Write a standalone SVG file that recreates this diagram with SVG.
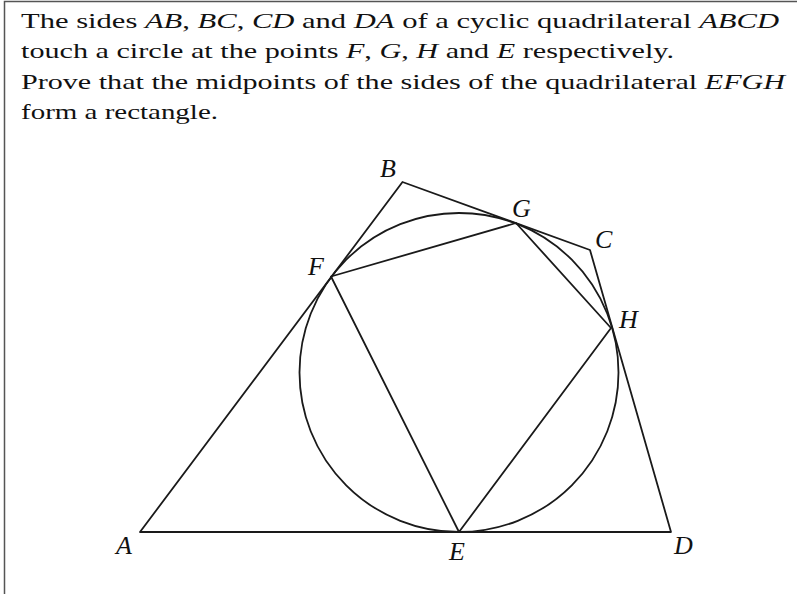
<svg xmlns="http://www.w3.org/2000/svg" width="797" height="594" viewBox="0 0 797 594">
<style>
.t{font-family:"Liberation Serif","DejaVu Serif",serif;font-size:22px;fill:#111}
.i{font-style:italic}
.lbl{font-family:"Liberation Serif","DejaVu Serif",serif;font-size:26px;font-style:italic;fill:#111}
.ln{stroke:#1a1a1a;stroke-width:1.8;fill:none;stroke-linejoin:round}
.frame{stroke:#555;stroke-width:1.5;fill:none}
</style>
<rect width="797" height="594" fill="#fff"/>
<path class="frame" d="M4.5,594 V1.5 H797"/>
<g id="text">
<text class="t" x="21" y="27.5" textLength="758" lengthAdjust="spacingAndGlyphs">The sides <tspan class="i">AB</tspan>, <tspan class="i">BC</tspan>, <tspan class="i">CD</tspan> and <tspan class="i">DA</tspan> of a cyclic quadrilateral <tspan class="i">ABCD</tspan></text>
<text class="t" x="21" y="58" textLength="653" lengthAdjust="spacingAndGlyphs">touch a circle at the points <tspan class="i">F</tspan>, <tspan class="i">G</tspan>, <tspan class="i">H</tspan> and <tspan class="i">E</tspan> respectively.</text>
<text class="t" x="21" y="88.5" textLength="764" lengthAdjust="spacingAndGlyphs">Prove that the midpoints of the sides of the quadrilateral <tspan class="i">EFGH</tspan></text>
<text class="t" x="21" y="118.5" textLength="197" lengthAdjust="spacingAndGlyphs">form a rectangle.</text>
</g>
<g id="circle"><circle class="ln" cx="459" cy="372.5" r="159.5"/></g>
<g id="connectors">
<polygon class="ln" points="140,532 402.5,182 590,250 671,532"/>
<polygon class="ln" points="459,532 331,276.5 516,223 611,328"/>
</g>
<g id="A"><text class="lbl" x="116" y="554">A</text></g>
<g id="B"><text class="lbl" x="380" y="177">B</text></g>
<g id="C"><text class="lbl" x="595" y="248">C</text></g>
<g id="D"><text class="lbl" x="674" y="554">D</text></g>
<g id="E"><text class="lbl" x="449" y="560">E</text></g>
<g id="F"><text class="lbl" x="308" y="275">F</text></g>
<g id="G"><text class="lbl" x="512" y="217">G</text></g>
<g id="H"><text class="lbl" x="619" y="328">H</text></g>
</svg>
